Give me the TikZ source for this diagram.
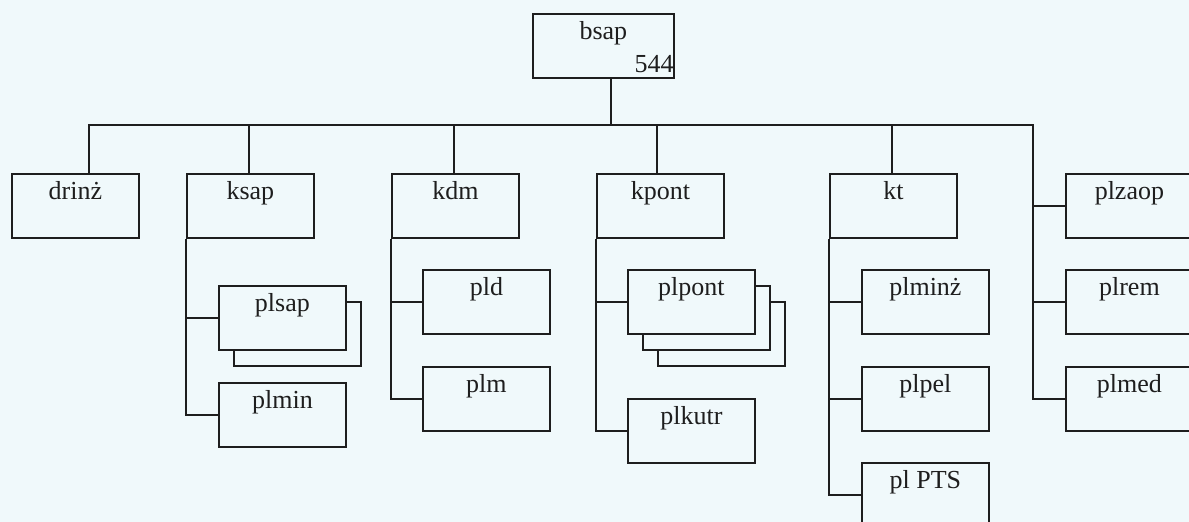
\documentclass[tikz,border=0pt]{standalone}
\usepackage{fontspec}
\setmainfont{Liberation Serif}
\usepackage{xcolor}
\usepackage{tikz}
\definecolor{paper}{RGB}{240,249,251}
\definecolor{ink}{RGB}{30,30,30}
\tikzset{
    ubox/.style={rectangle, draw=ink, fill=paper, line width=1.8pt,
                 minimum width=127pt, inner sep=0pt, anchor=north west,
                 text height=26pt, text depth=38pt, text=ink,
                 font=\fontsize{26}{30}\selectfont},
    conn/.style={draw=ink, line width=1.8pt}
}
\begin{document}
\begin{tikzpicture}[x=1pt, y=-1pt]
\useasboundingbox (0,0) rectangle (1189,522);
\clip (0,0) rectangle (1189,522);
\fill[paper] (0,0) rectangle (1189,522);

% ── Head ──────────────────────────────────────────────────────────────
\node[ubox, minimum width=141pt,
      label={[anchor=south east, inner xsep=1pt, inner ysep=6pt, text=ink,
              font=\fontsize{26}{30}\selectfont]south east:544}]
      at (532,13) (bsap) {bsap};

% ── Top row ───────────────────────────────────────────────────────────
\node[ubox] at (11,173)   (drinz)  {drinż};
\node[ubox] at (186,173)  (ksap)   {ksap};
\node[ubox] at (391,173)  (kdm)    {kdm};
\node[ubox] at (596,173)  (kpont)  {kpont};
\node[ubox] at (829,173)  (kt)     {kt};
\node[ubox] at (1065,173) (plzaop) {plzaop};

% ── ksap column ───────────────────────────────────────────────────────
\node[ubox] at (233,301) (plsapB) {};
\node[ubox] at (218,285) (plsap)  {plsap};
\node[ubox] at (218,382) (plmin)  {plmin};

% ── kdm column ────────────────────────────────────────────────────────
\node[ubox] at (422,269) (pld) {pld};
\node[ubox] at (422,366) (plm) {plm};

% ── kpont column ──────────────────────────────────────────────────────
\node[ubox] at (657,301) (plpontC) {};
\node[ubox] at (642,285) (plpontB) {};
\node[ubox] at (627,269) (plpont)  {plpont};
\node[ubox] at (627,398) (plkutr)  {plkutr};

% ── kt column ─────────────────────────────────────────────────────────
\node[ubox] at (861,269) (plminz) {plminż};
\node[ubox] at (861,366) (plpel)  {plpel};
\node[ubox] at (861,462) (plPTS)  {pl PTS};

% ── right column ──────────────────────────────────────────────────────
\node[ubox] at (1065,269) (plrem) {plrem};
\node[ubox] at (1065,366) (plmed) {plmed};

% ── Bus ───────────────────────────────────────────────────────────────
\coordinate (plbus) at (1033,125);
\draw[conn] ([xshift=79pt]bsap.south west) -- ([xshift=79pt]bsap.south west |- plbus);
\draw[conn] ([xshift=78pt]drinz.north west) |- (plbus) |- (plmed.west);
\foreach \n/\dx in {ksap/63,kdm/63,kpont/61,kt/63}
    \draw[conn] ([xshift=\dx pt]\n.north west) -- ([xshift=\dx pt]\n.north west |- plbus);
\foreach \n in {plzaop,plrem}
    \draw[conn] (\n.west) -- (\n.west -| plbus);

% ── Column branches ───────────────────────────────────────────────────
\draw[conn] (ksap.south west) |- (plmin.west);
\draw[conn] (plsap.west) -- (plsap.west -| ksap.west);
\draw[conn] (kdm.south west) |- (plm.west);
\draw[conn] (pld.west) -- (pld.west -| kdm.west);
\draw[conn] (kpont.south west) |- (plkutr.west);
\draw[conn] (plpont.west) -- (plpont.west -| kpont.west);
\draw[conn] (kt.south west) |- (plPTS.west);
\foreach \n in {plminz,plpel}
    \draw[conn] (\n.west) -- (\n.west -| kt.west);
\end{tikzpicture}
\end{document}
